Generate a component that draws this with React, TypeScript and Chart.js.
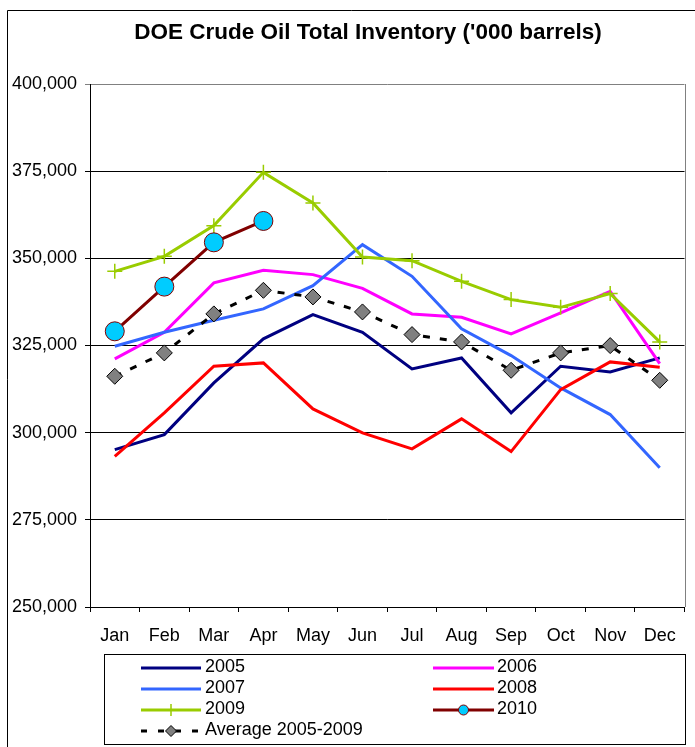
import React, { useEffect, useRef } from "react";
import { Chart, registerables } from "chart.js";

Chart.register(...registerables);

const months = ["Jan", "Feb", "Mar", "Apr", "May", "Jun", "Jul", "Aug", "Sep", "Oct", "Nov", "Dec"];
const y2005 = [295150, 299450, 314280, 326900, 333860, 328790, 318290, 321440, 305680, 319040, 317430, 321440];
const y2006 = [321160, 328790, 342950, 346560, 345330, 341400, 334060, 333090, 328330, 334350, 340540, 319810];
const y2007 = [324770, 328790, 332230, 335490, 342170, 353930, 344840, 329760, 322100, 312840, 305190, 289910];
const y2008 = [293230, 305680, 319040, 320010, 306820, 299940, 295350, 303960, 294580, 312360, 320300, 318750];
const y2009 = [346270, 350570, 359380, 374660, 365880, 350400, 349340, 343400, 338160, 335950, 339880, 326030];
const y2010 = [329070, 341890, 354590, 360720];
const avg0509 = [316170, 322880, 334060, 340830, 338930, 334630, 328130, 326030, 317890, 322880, 324970, 315020];
const yMin = 250000;
const yMax = 400000;
const yStep = 25000;
const titleText = "DOE Crude Oil Total Inventory ('000 barrels)";

const FONT = '"Liberation Sans", Arial, sans-serif';

function drawMarker(ctx: CanvasRenderingContext2D, style: string, x: number, y: number, r: number, fill: string, stroke: string, bw: number) {
  ctx.save();
  ctx.setLineDash([]);
  ctx.lineWidth = bw;
  ctx.strokeStyle = stroke;
  ctx.fillStyle = fill;
  ctx.beginPath();
  if (style === "circle") {
    ctx.arc(x, y, r, 0, Math.PI * 2);
    ctx.fill();
    ctx.stroke();
  } else if (style === "rectRot") {
    ctx.moveTo(x, y - r);
    ctx.lineTo(x + r, y);
    ctx.lineTo(x, y + r);
    ctx.lineTo(x - r, y);
    ctx.closePath();
    ctx.fill();
    ctx.stroke();
  } else if (style === "cross") {
    ctx.moveTo(x - r, y);
    ctx.lineTo(x + r, y);
    ctx.moveTo(x, y - r);
    ctx.lineTo(x, y + r);
    ctx.stroke();
  }
  ctx.restore();
}

const decorPlugin = {
  id: "decor",
  afterDraw(chart: any) {
    const ctx: CanvasRenderingContext2D = chart.ctx;
    const ca = chart.chartArea;
    ctx.save();
    // outer frame
    ctx.strokeStyle = "#000";
    ctx.lineWidth = 1;
    ctx.beginPath();
    ctx.moveTo(7.5, 760);
    ctx.lineTo(7.5, 10.5);
    ctx.lineTo(700, 10.5);
    ctx.stroke();
    // plot right border
    ctx.strokeStyle = "#808080";
    ctx.beginPath();
    ctx.moveTo(Math.round(ca.right) + 0.5, ca.top);
    ctx.lineTo(Math.round(ca.right) + 0.5, ca.bottom);
    ctx.stroke();
    // title
    ctx.fillStyle = "#000";
    ctx.font = "bold 22.5px " + FONT;
    ctx.textAlign = "center";
    ctx.textBaseline = "middle";
    ctx.fillText(titleText, 368, 33);
    // legend box
    ctx.strokeStyle = "#000";
    ctx.lineWidth = 1;
    ctx.strokeRect(104.5, 654.5, 581, 90);
    const cols = [
      { x1: 141, x2: 201, tx: 205 },
      { x1: 433, x2: 494, tx: 497 },
    ];
    const rowY = [668, 689, 710, 731];
    ctx.font = "18px " + FONT;
    ctx.textAlign = "left";
    ctx.textBaseline = "middle";
    chart.data.datasets.forEach((ds: any, i: number) => {
      const col = cols[i % 2];
      const y = rowY[Math.floor(i / 2)];
      ctx.save();
      ctx.strokeStyle = ds.borderColor;
      ctx.lineWidth = ds.borderWidth;
      if (ds.borderDash) {
        ctx.setLineDash([6, 11]);
      }
      ctx.beginPath();
      ctx.moveTo(col.x1, y);
      ctx.lineTo(ds.borderDash ? col.x2 - 2 : col.x2, y);
      ctx.stroke();
      ctx.restore();
      if (ds.pointRadius > 0) {
        const lr = ds.pointStyle === "circle" ? 5 : ds.pointStyle === "rectRot" ? 5.5 : 6;
        drawMarker(ctx, ds.pointStyle, (col.x1 + col.x2) / 2, y, lr, ds.pointBackgroundColor, ds.pointBorderColor, ds.pointBorderWidth);
      }
      ctx.fillStyle = "#000";
      ctx.fillText(ds.label, col.tx, y - 1);
    });
    ctx.restore();
  },
};

export default function App() {
  const ref = useRef<HTMLCanvasElement>(null);
  useEffect(() => {
    const canvas = ref.current!;
    const line = (label: string, data: number[], color: string, order: number, extra: any = {}) => ({
      label,
      data,
      borderColor: color,
      backgroundColor: color,
      borderWidth: 3,
      tension: 0,
      fill: false,
      pointRadius: 0,
      pointHoverRadius: 0,
      pointStyle: "circle",
      pointBackgroundColor: color,
      pointBorderColor: color,
      pointBorderWidth: 1,
      order,
      ...extra,
    });
    const chart = new Chart(canvas, {
      type: "line",
      data: {
        labels: months,
        datasets: [
          line("2005", y2005, "#000080", 7),
          line("2006", y2006, "#FF00FF", 6),
          line("2007", y2007, "#3366FF", 5),
          line("2008", y2008, "#FF0000", 4),
          line("2009", y2009, "#99CC00", 3, {
            pointRadius: 7.5,
            pointStyle: "cross",
            pointBorderColor: "#99CC00",
            pointBackgroundColor: "#99CC00",
            pointBorderWidth: 1.5,
          }),
          line("2010", y2010, "#800000", 2, {
            pointRadius: 9.5,
            pointStyle: "circle",
            pointBackgroundColor: "#00CCFF",
            pointBorderColor: "#800000",
            pointBorderWidth: 1,
          }),
          line("Average 2005-2009", avg0509, "#000000", 1, {
            borderDash: [7, 10],
            pointRadius: 8,
            pointStyle: "rectRot",
            pointBackgroundColor: "#808080",
            pointBorderColor: "#000000",
            pointBorderWidth: 1,
          }),
        ] as any,
      },
      options: {
        responsive: false,
        animation: false,
        devicePixelRatio: 1,
        layout: { padding: { left: 0, right: 8, top: 84, bottom: 0 } },
        plugins: {
          legend: { display: false },
          title: { display: false },
          tooltip: { enabled: false },
        },
        scales: {
          x: {
            type: "category",
            offset: true,
            grid: {
              offset: true,
              drawOnChartArea: false,
              drawTicks: true,
              tickLength: 5,
              color: "#000",
              lineWidth: 1,
            },
            border: { display: true, color: "#000", width: 1 },
            ticks: {
              font: { family: FONT, size: 18 },
              color: "#000",
              padding: 13,
              maxRotation: 0,
              autoSkip: false,
            },
            afterFit: (s: any) => {
              s.height = 140;
            },
          },
          y: {
            min: yMin,
            max: yMax,
            ticks: {
              stepSize: yStep,
              font: { family: FONT, size: 18 },
              color: "#000",
              padding: 8,
              callback: (v: any) => Number(v).toLocaleString("en-US"),
            },
            grid: {
              color: (c: any) => (c.tick && c.tick.value === yMax ? "#808080" : "#000"),
              tickLength: 5,
              drawTicks: true,
              lineWidth: 1,
            },
            border: { display: true, color: "#000", width: 1 },
            afterFit: (s: any) => {
              s.width = 90;
            },
          },
        },
      } as any,
      plugins: [decorPlugin],
    });
    return () => chart.destroy();
  }, []);
  return (
    <div style={{ position: "absolute", left: 0, top: 0, width: 695, height: 747, background: "#fff" }}>
      <canvas ref={ref} width={695} height={747} style={{ width: 695, height: 747, display: "block" }} />
    </div>
  );
}
